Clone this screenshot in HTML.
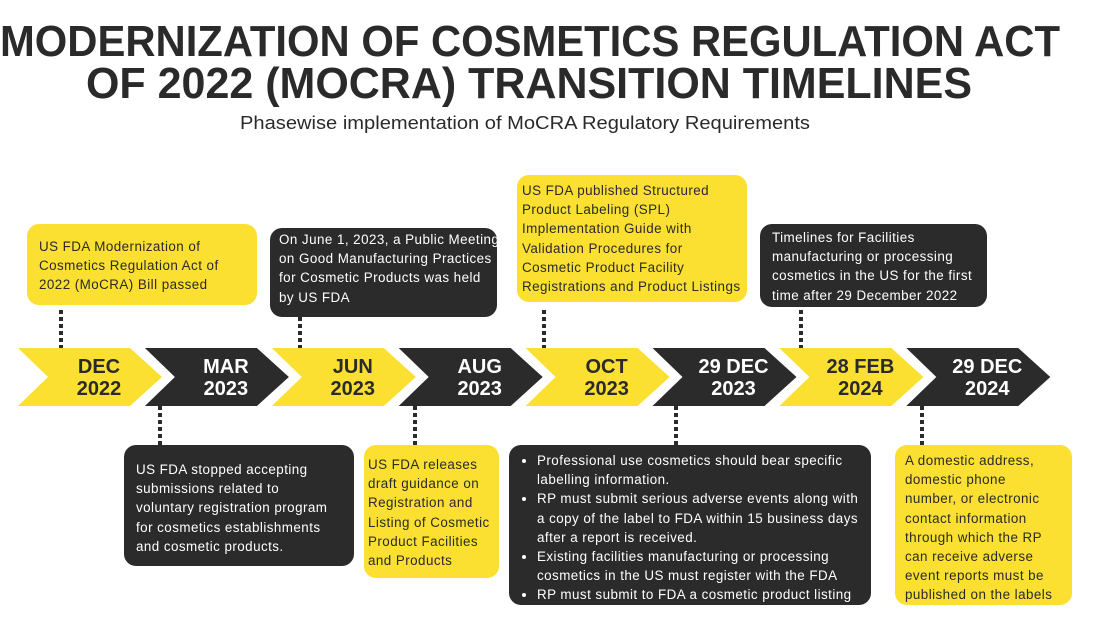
<!DOCTYPE html>
<html><head><meta charset="utf-8"><style>
body{margin:0;width:1104px;height:634px;background:#fff;overflow:hidden;font-family:"Liberation Sans",sans-serif;position:relative}
.box{position:absolute;border-radius:12px;font-size:13.4px;line-height:19.2px;white-space:nowrap;box-sizing:border-box;padding:9px 12px;letter-spacing:0.45px}
.y{background:#fbe032;color:#2a2a2a}
.b{background:#2b2b2b;color:#fff}
ul{margin:0;padding-left:16px}
</style></head><body>
<svg width="1104" height="634" style="position:absolute;left:0;top:0">
<text x="0" y="56" font-family="Liberation Sans" font-weight="bold" font-size="44" fill="#2a2a2a" textLength="1060" lengthAdjust="spacingAndGlyphs">MODERNIZATION OF COSMETICS REGULATION ACT</text>
<text x="86" y="98" font-family="Liberation Sans" font-weight="bold" font-size="44" fill="#2a2a2a" textLength="886" lengthAdjust="spacingAndGlyphs">OF 2022 (MOCRA) TRANSITION TIMELINES</text>
<text x="240" y="129" font-family="Liberation Sans" font-size="18" fill="#2a2a2a" textLength="570" lengthAdjust="spacingAndGlyphs">Phasewise implementation of MoCRA Regulatory Requirements</text>
<g id="chev"></g>
<g id="conn"></g>
</svg>

<div class="box y" style="left:27px;top:224px;width:230px;height:81px;padding-top:13px">US FDA Modernization of<br>Cosmetics Regulation Act of<br>2022 (MoCRA) Bill passed</div>
<div class="box b" style="left:270px;top:228px;width:227px;height:89px;padding-top:2px;padding-left:9px">On June 1, 2023, a Public Meeting<br>on Good Manufacturing Practices<br>for Cosmetic Products was held<br>by US FDA</div>
<div class="box y" style="left:517px;top:175px;width:230px;height:127px;padding:6px 5px">US FDA published Structured<br>Product Labeling (SPL)<br>Implementation Guide with<br>Validation Procedures for<br>Cosmetic Product Facility<br>Registrations and Product Listings</div>
<div class="box b" style="left:760px;top:224px;width:227px;height:83px;padding-top:4px">Timelines for Facilities<br>manufacturing or processing<br>cosmetics in the US for the first<br>time after 29 December 2022</div>

<div class="box b" style="left:124px;top:445px;width:230px;height:121px;padding-top:15px">US FDA stopped accepting<br>submissions related to<br>voluntary registration program<br>for cosmetics establishments<br>and cosmetic products.</div>
<div class="box y" style="left:364px;top:445px;width:135px;height:133px;padding:10px 4px">US FDA releases<br>draft guidance on<br>Registration and<br>Listing of Cosmetic<br>Product Facilities<br>and Products</div>
<div class="box b" style="left:509px;top:445px;width:362px;height:160px;padding:6px 12px"><ul>
<li>Professional use cosmetics should bear specific<br>labelling information.</li>
<li>RP must submit serious adverse events along with<br>a copy of the label to FDA within 15 business days<br>after a report is received.</li>
<li>Existing facilities manufacturing or processing<br>cosmetics in the US must register with the FDA</li>
<li>RP must submit to FDA a cosmetic product listing</li></ul></div>
<div class="box y" style="left:895px;top:445px;width:177px;height:160px;padding-top:6px;padding-left:10px">A domestic address,<br>domestic phone<br>number, or electronic<br>contact information<br>through which the RP<br>can receive adverse<br>event reports must be<br>published on the labels</div>

<script>
const months = ["DEC","MAR","JUN","AUG","OCT","29 DEC","28 FEB","29 DEC"];
const years = ["2022","2023","2023","2023","2023","2023","2024","2024"];
const noteAbove = [true,false,true,false,true,false,true,false];
const connX = [61,160,300,415,544,676,801,922];
const ns="http://www.w3.org/2000/svg";
const chevGroup=document.getElementById('chev'), connGroup=document.getElementById('conn');
const X0=18, STEP=126.9, TOPY=348, H=58, NOTCH=30, BODY=112, TIP=32;
months.forEach((m,i)=>{
  const x=X0+i*STEP, yellow=i%2===0;
  const p=document.createElementNS(ns,'polygon');
  p.setAttribute('points',`${x},${TOPY} ${x+BODY},${TOPY} ${x+BODY+TIP},${TOPY+H/2} ${x+BODY},${TOPY+H} ${x},${TOPY+H} ${x+NOTCH},${TOPY+H/2}`);
  p.setAttribute('fill',yellow?'#fbe032':'#2b2b2b');
  
  
  chevGroup.appendChild(p);
  const cx=x+NOTCH+(BODY+TIP-NOTCH)/2-6;
  [m,years[i]].forEach((t,k)=>{
    const tx=document.createElementNS(ns,'text');
    tx.setAttribute('x',cx);tx.setAttribute('y',TOPY+25+k*22);
    tx.setAttribute('text-anchor','middle');tx.setAttribute('font-weight','bold');
    tx.setAttribute('font-size','20');tx.setAttribute('font-family','Liberation Sans');
    tx.setAttribute('fill',yellow?'#2a2a2a':'#fff');
    tx.textContent=t;
    
    
    chevGroup.appendChild(tx);
  });
  const l=document.createElementNS(ns,'line');
  const cxl=connX[i];
  l.setAttribute('x1',cxl);l.setAttribute('x2',cxl);
  if(noteAbove[i]){l.setAttribute('y1',310);l.setAttribute('y2',348);}
  else{l.setAttribute('y1',406);l.setAttribute('y2',445);}
  l.setAttribute('stroke','#2b2b2b');l.setAttribute('stroke-width','4');
  l.setAttribute('stroke-dasharray','4 3');
  
  
  connGroup.appendChild(l);
});
</script>
</body></html>
